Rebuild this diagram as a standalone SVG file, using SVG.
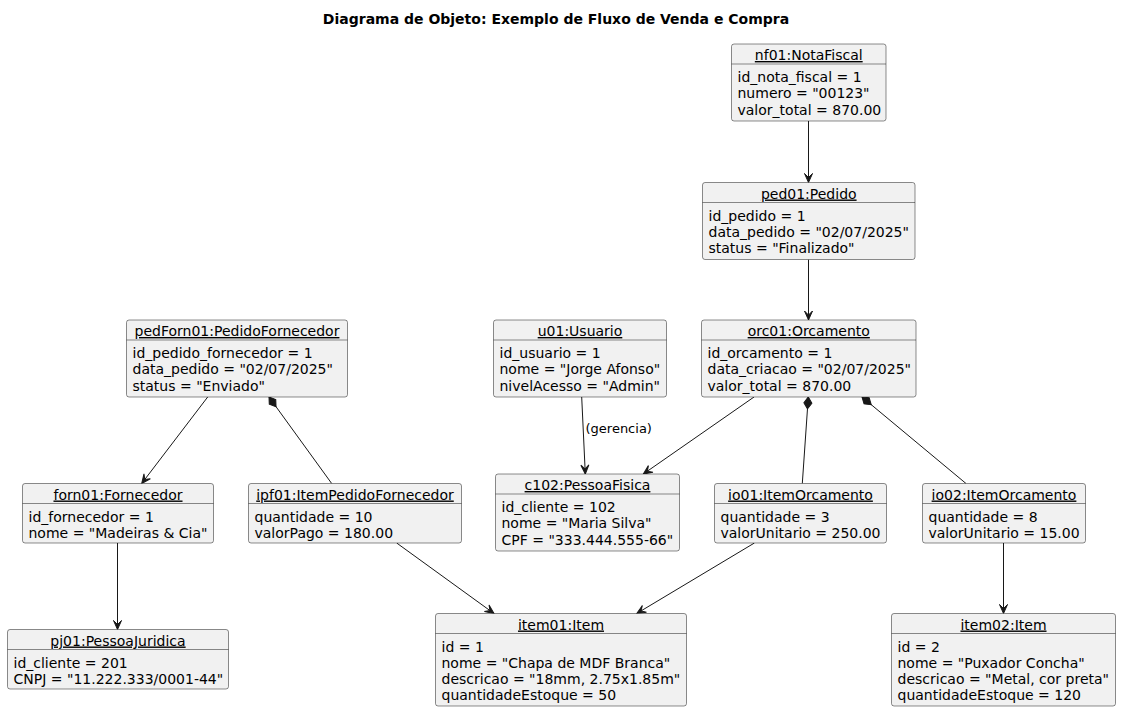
<svg xmlns="http://www.w3.org/2000/svg" width="1121" height="712" viewBox="0 0 1121 712">
<defs>
<marker id="arrow" markerUnits="userSpaceOnUse" viewBox="-10 -5 11 10" markerWidth="11" markerHeight="10" refX="0" refY="0" orient="auto">
<path d="M0,0 L-9,-4 L-5,0 L-9,4 Z" fill="#181818" stroke="#181818" stroke-width="1"/>
</marker>
<marker id="diamond" markerUnits="userSpaceOnUse" viewBox="-1 -5 14 10" markerWidth="14" markerHeight="10" refX="0" refY="0" orient="auto">
<path d="M0,0 L6,-4 L12,0 L6,4 Z" fill="#181818" stroke="#181818" stroke-width="1"/>
</marker>
<style>
.box{fill:#F1F1F1;stroke:#181818;stroke-width:0.5}
.sep{stroke:#181818;stroke-width:0.5}
.hd{font-family:"DejaVu Sans",sans-serif;font-size:14px;fill:#000;text-anchor:middle;text-decoration:underline}
.at{font-family:"DejaVu Sans",sans-serif;font-size:14px;fill:#000}
.lbl{font-family:"DejaVu Sans",sans-serif;font-size:13px;fill:#000}
.ttl{font-family:"DejaVu Sans",sans-serif;font-size:14px;font-weight:bold;fill:#000;text-anchor:middle}
.ln{stroke:#181818;stroke-width:1;fill:none}
.ar{marker-end:url(#arrow)}
.cp{marker-start:url(#diamond)}
</style>
</defs>
<rect width="1121" height="712" fill="#FFFFFF"/>
<text class="ttl" x="556" y="23.5">Diagrama de Objeto: Exemplo de Fluxo de Venda e Compra</text>

<g id="connectors">
<line class="ln ar" x1="808.5" y1="121" x2="808.5" y2="182.5"/>
<line class="ln ar" x1="808.5" y1="259.5" x2="808.5" y2="320"/>
<line class="ln ar" x1="207.7" y1="397" x2="141.7" y2="483.5"/>
<line class="ln cp" x1="269" y1="397" x2="331.7" y2="483.5"/>
<line class="ln ar" x1="117.5" y1="543" x2="117.5" y2="629.5"/>
<line class="ln ar" x1="396.7" y1="543" x2="494" y2="613.5"/>
<line class="ln ar" x1="581.7" y1="397" x2="585.3" y2="474"/>
<text class="lbl" x="585.5" y="433">(gerencia)</text>
<line class="ln ar" x1="754" y1="397" x2="643.3" y2="474"/>
<line class="ln cp" x1="808.3" y1="397" x2="802.3" y2="483.5"/>
<line class="ln cp" x1="862" y1="397" x2="966" y2="483.5"/>
<line class="ln ar" x1="754.4" y1="543" x2="636.7" y2="613.5"/>
<line class="ln ar" x1="1003.5" y1="543" x2="1003.5" y2="613.5"/>
</g>

<g id="nf01">
<rect class="box" x="731.5" y="44" width="154.5" height="77" rx="2.5"/>
<line class="sep" x1="731.5" y1="64" x2="886" y2="64"/>
<text class="hd" x="808.75" y="60">nf01:NotaFiscal</text>
<text class="at" x="737.5" y="82">id_nota_fiscal = 1</text>
<text class="at" x="737.5" y="98.3">numero = "00123"</text>
<text class="at" x="737.5" y="114.6">valor_total = 870.00</text>
</g>

<g id="ped01">
<rect class="box" x="702.5" y="182.5" width="212.5" height="77" rx="2.5"/>
<line class="sep" x1="702.5" y1="202.5" x2="915" y2="202.5"/>
<text class="hd" x="808.75" y="198.5">ped01:Pedido</text>
<text class="at" x="708.5" y="220.5">id_pedido = 1</text>
<text class="at" x="708.5" y="236.8">data_pedido = "02/07/2025"</text>
<text class="at" x="708.5" y="253.1">status = "Finalizado"</text>
</g>

<g id="pedForn01">
<rect class="box" x="126.5" y="320" width="221" height="77" rx="2.5"/>
<line class="sep" x1="126.5" y1="340" x2="347.5" y2="340"/>
<text class="hd" x="237" y="336">pedForn01:PedidoFornecedor</text>
<text class="at" x="132.5" y="358">id_pedido_fornecedor = 1</text>
<text class="at" x="132.5" y="374.3">data_pedido = "02/07/2025"</text>
<text class="at" x="132.5" y="390.6">status = "Enviado"</text>
</g>

<g id="u01">
<rect class="box" x="493.5" y="320" width="173" height="77" rx="2.5"/>
<line class="sep" x1="493.5" y1="340" x2="666.5" y2="340"/>
<text class="hd" x="580" y="336">u01:Usuario</text>
<text class="at" x="499.5" y="358">id_usuario = 1</text>
<text class="at" x="499.5" y="374.3">nome = "Jorge Afonso"</text>
<text class="at" x="499.5" y="390.6">nivelAcesso = "Admin"</text>
</g>

<g id="orc01">
<rect class="box" x="701.5" y="320" width="214.5" height="77" rx="2.5"/>
<line class="sep" x1="701.5" y1="340" x2="916" y2="340"/>
<text class="hd" x="808.75" y="336">orc01:Orcamento</text>
<text class="at" x="707.5" y="358">id_orcamento = 1</text>
<text class="at" x="707.5" y="374.3">data_criacao = "02/07/2025"</text>
<text class="at" x="707.5" y="390.6">valor_total = 870.00</text>
</g>

<g id="forn01">
<rect class="box" x="22.5" y="483.5" width="191" height="59.5" rx="2.5"/>
<line class="sep" x1="22.5" y1="503.5" x2="213.5" y2="503.5"/>
<text class="hd" x="118" y="499.5">forn01:Fornecedor</text>
<text class="at" x="28.5" y="521.5">id_fornecedor = 1</text>
<text class="at" x="28.5" y="537.8">nome = "Madeiras &amp; Cia"</text>
</g>

<g id="ipf01">
<rect class="box" x="248.5" y="483.5" width="213" height="59.5" rx="2.5"/>
<line class="sep" x1="248.5" y1="503.5" x2="461.5" y2="503.5"/>
<text class="hd" x="355" y="499.5">ipf01:ItemPedidoFornecedor</text>
<text class="at" x="254.5" y="521.5">quantidade = 10</text>
<text class="at" x="254.5" y="537.8">valorPago = 180.00</text>
</g>

<g id="c102">
<rect class="box" x="495.5" y="474" width="184" height="77" rx="2.5"/>
<line class="sep" x1="495.5" y1="494" x2="679.5" y2="494"/>
<text class="hd" x="587.5" y="490">c102:PessoaFisica</text>
<text class="at" x="501.5" y="512">id_cliente = 102</text>
<text class="at" x="501.5" y="528.3">nome = "Maria Silva"</text>
<text class="at" x="501.5" y="544.6">CPF = "333.444.555-66"</text>
</g>

<g id="io01">
<rect class="box" x="714.5" y="483.5" width="172" height="59.5" rx="2.5"/>
<line class="sep" x1="714.5" y1="503.5" x2="886.5" y2="503.5"/>
<text class="hd" x="800.5" y="499.5">io01:ItemOrcamento</text>
<text class="at" x="720.5" y="521.5">quantidade = 3</text>
<text class="at" x="720.5" y="537.8">valorUnitario = 250.00</text>
</g>

<g id="io02">
<rect class="box" x="922.5" y="483.5" width="163" height="59.5" rx="2.5"/>
<line class="sep" x1="922.5" y1="503.5" x2="1085.5" y2="503.5"/>
<text class="hd" x="1004" y="499.5">io02:ItemOrcamento</text>
<text class="at" x="928.5" y="521.5">quantidade = 8</text>
<text class="at" x="928.5" y="537.8">valorUnitario = 15.00</text>
</g>

<g id="pj01">
<rect class="box" x="7.5" y="629.5" width="221" height="59.5" rx="2.5"/>
<line class="sep" x1="7.5" y1="649.5" x2="228.5" y2="649.5"/>
<text class="hd" x="118" y="645.5">pj01:PessoaJuridica</text>
<text class="at" x="13.5" y="667.5">id_cliente = 201</text>
<text class="at" x="13.5" y="683.8">CNPJ = "11.222.333/0001-44"</text>
</g>

<g id="item01">
<rect class="box" x="435.5" y="613.5" width="251" height="92.5" rx="2.5"/>
<line class="sep" x1="435.5" y1="633.5" x2="686.5" y2="633.5"/>
<text class="hd" x="561" y="629.5">item01:Item</text>
<text class="at" x="441.5" y="651.5">id = 1</text>
<text class="at" x="441.5" y="667.8">nome = "Chapa de MDF Branca"</text>
<text class="at" x="441.5" y="684.1">descricao = "18mm, 2.75x1.85m"</text>
<text class="at" x="441.5" y="700.4">quantidadeEstoque = 50</text>
</g>

<g id="item02">
<rect class="box" x="891.5" y="613.5" width="224" height="92.5" rx="2.5"/>
<line class="sep" x1="891.5" y1="633.5" x2="1115.5" y2="633.5"/>
<text class="hd" x="1003.5" y="629.5">item02:Item</text>
<text class="at" x="897.5" y="651.5">id = 2</text>
<text class="at" x="897.5" y="667.8">nome = "Puxador Concha"</text>
<text class="at" x="897.5" y="684.1">descricao = "Metal, cor preta"</text>
<text class="at" x="897.5" y="700.4">quantidadeEstoque = 120</text>
</g>
</svg>
